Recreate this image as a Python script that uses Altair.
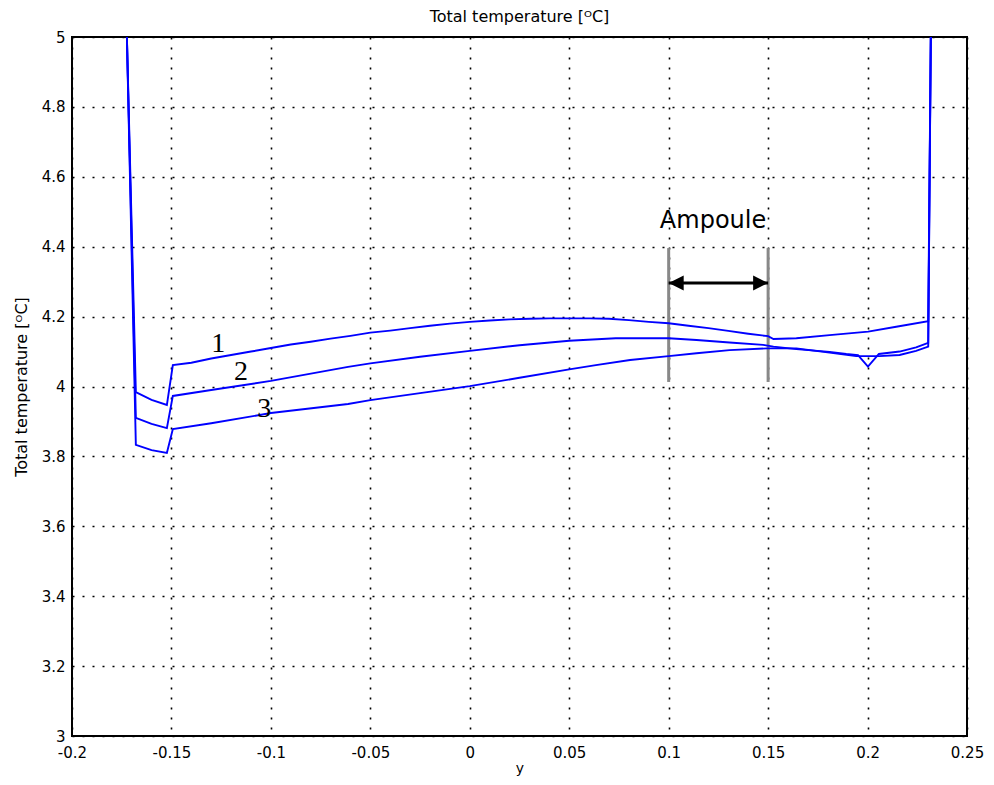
import altair as alt
import pandas as pd

# ---- data ----
x_ticks = [-0.2, -0.15, -0.1, -0.05, 0, 0.05, 0.1, 0.15, 0.2, 0.25]
y_ticks = [3, 3.2, 3.4, 3.6, 3.8, 4, 4.2, 4.4, 4.6, 4.8, 5]

c1_x = [-0.1724, -0.1679, -0.160, -0.1523, -0.1493, -0.14, -0.13, -0.12, -0.11, -0.10,
        -0.09, -0.08, -0.07, -0.06, -0.05, -0.04, -0.03, -0.02, -0.01, 0.0,
        0.01, 0.02, 0.03, 0.04, 0.05, 0.06, 0.07, 0.08, 0.09, 0.10,
        0.11, 0.12, 0.13, 0.14, 0.15, 0.1527, 0.1642, 0.1809, 0.2003, 0.2144,
        0.2305, 0.2318]
c1_y = [5.0, 3.984, 3.962, 3.947, 4.061, 4.068, 4.080, 4.090, 4.100, 4.110,
        4.120, 4.128, 4.137, 4.145, 4.154, 4.160, 4.167, 4.174, 4.180, 4.185,
        4.189, 4.192, 4.194, 4.195, 4.195, 4.195, 4.194, 4.190, 4.185, 4.181,
        4.174, 4.167, 4.159, 4.151, 4.144, 4.136, 4.138, 4.147, 4.157, 4.171,
        4.187, 5.0]

c2_x = [-0.1724, -0.1679, -0.160, -0.1523, -0.1493, -0.13, -0.10, -0.0612, -0.05, -0.025,
        0.0, 0.025, 0.05, 0.0734, 0.1, 0.114, 0.1306, 0.1475, 0.1527, 0.1642,
        0.1809, 0.1893, 0.1952, 0.2002, 0.2057, 0.2161, 0.2244, 0.2305, 0.2318]
c2_y = [5.0, 3.910, 3.893, 3.881, 3.973, 3.990, 4.016, 4.056, 4.066, 4.085,
        4.102, 4.118, 4.131, 4.138, 4.138, 4.133, 4.126, 4.119, 4.114, 4.107,
        4.099, 4.093, 4.090, 4.057, 4.093, 4.100, 4.112, 4.125, 5.0]

c3_x = [-0.1724, -0.1679, -0.160, -0.1523, -0.1493, -0.13, -0.10, -0.0612, -0.05, -0.025,
        0.0, 0.025, 0.05, 0.0634, 0.0806, 0.1, 0.114, 0.1306, 0.1498, 0.1642,
        0.1809, 0.1943, 0.2060, 0.2161, 0.2244, 0.2305, 0.2318]
c3_y = [5.0, 3.833, 3.818, 3.810, 3.878, 3.895, 3.924, 3.950, 3.961, 3.981,
        4.001, 4.025, 4.049, 4.061, 4.076, 4.087, 4.095, 4.104, 4.109, 4.109,
        4.097, 4.087, 4.087, 4.090, 4.102, 4.114, 5.0]

series_names = ["1", "2", "3"]
label_x = [-0.1265, -0.1150, -0.1034]
label_y = [4.0987, 4.0186, 3.9127]

ampoule_x = [0.1, 0.15]
ampoule_y_low = 4.013
ampoule_y_high = 4.396
arrow_y = 4.296
ampoule_text = "Ampoule"
ampoule_text_x = 0.1223
ampoule_text_y = 4.4535

# ---- tables ----
rows = []
for name, xs, ys in zip(series_names, [c1_x, c2_x, c3_x], [c1_y, c2_y, c3_y]):
    for i, (xv, yv) in enumerate(zip(xs, ys)):
        rows.append({"series": name, "x": xv, "y": yv, "i": i})
df = pd.DataFrame(rows)

labels_df = pd.DataFrame({"x": label_x, "y": label_y, "t": series_names})
amp_df = pd.DataFrame({"x": ampoule_x, "y1": [ampoule_y_low] * 2, "y2": [ampoule_y_high] * 2})
arrow_df = pd.DataFrame({"x": [ampoule_x[0]], "x2": [ampoule_x[1]], "y": [arrow_y]})
head_l = pd.DataFrame({"x": [ampoule_x[0]], "y": [arrow_y]})
head_r = pd.DataFrame({"x": [ampoule_x[1]], "y": [arrow_y]})
amp_text_df = pd.DataFrame({"x": [ampoule_text_x], "y": [ampoule_text_y], "t": [ampoule_text]})

FONT = "DejaVu Sans"
xs = alt.Scale(domain=[-0.2, 0.25], nice=False, zero=False)
ys = alt.Scale(domain=[3, 5], nice=False, zero=False)

x_axis = alt.Axis(title="y", values=x_ticks, labelExpr="'' + datum.value",
                  labelPadding=9, titlePadding=1, titleFontSize=14, labelFlush=False)
y_axis = alt.Axis(title="Total temperature [ᴼC]", values=y_ticks,
                  labelExpr="'' + datum.value", labelPadding=7, titlePadding=12,
                  labelFlush=False)

lines = alt.Chart(df).mark_line(color="#0000ff", strokeWidth=1.9, clip=True).encode(
    x=alt.X("x:Q", scale=xs, axis=x_axis),
    y=alt.Y("y:Q", scale=ys, axis=y_axis),
    detail="series:N",
    order="i:Q",
)

num_labels = alt.Chart(labels_df).mark_text(
    font="Liberation Serif", fontSize=28, align="center", baseline="alphabetic", color="black"
).encode(x=alt.X("x:Q", scale=xs), y=alt.Y("y:Q", scale=ys), text="t:N")

amp_rules = alt.Chart(amp_df).mark_rule(color="#888888", strokeWidth=3).encode(
    x=alt.X("x:Q", scale=xs), y=alt.Y("y1:Q", scale=ys), y2="y2:Q"
)

arrow_line = alt.Chart(arrow_df).mark_rule(color="black", strokeWidth=3).encode(
    x=alt.X("x:Q", scale=xs), x2="x2:Q", y=alt.Y("y:Q", scale=ys)
)

left_head = alt.Chart(head_l).mark_point(
    shape="M0,0L2,-1L2,1Z", size=225, filled=True, color="black", opacity=1
).encode(x=alt.X("x:Q", scale=xs), y=alt.Y("y:Q", scale=ys))

right_head = alt.Chart(head_r).mark_point(
    shape="M0,0L-2,-1L-2,1Z", size=225, filled=True, color="black", opacity=1
).encode(x=alt.X("x:Q", scale=xs), y=alt.Y("y:Q", scale=ys))

amp_text = alt.Chart(amp_text_df).mark_text(
    font=FONT, fontSize=24, align="center", baseline="alphabetic", color="black"
).encode(x=alt.X("x:Q", scale=xs), y=alt.Y("y:Q", scale=ys), text="t:N")

chart = alt.layer(
    amp_rules, lines, arrow_line, left_head, right_head, amp_text, num_labels
).properties(
    width=895,
    height=699,
    title=alt.TitleParams("Total temperature [ᴼC]", font=FONT, fontSize=16,
                          fontWeight="normal", color="black", offset=5,
                          frame="group"),
    autosize=alt.AutoSizeParams(type="none"),
    padding={"left": 64, "top": 29, "right": 18, "bottom": 41},
).configure_view(
    stroke="black", strokeWidth=2
).configure_axis(
    domain=False, ticks=False,
    labelFont=FONT, labelFontSize=15, labelColor="black",
    titleFont=FONT, titleFontSize=16, titleFontWeight="normal", titleColor="black",
    gridColor="black", gridDash=[2, 8], gridWidth=1.6, gridOpacity=1,
)

chart.save("out.html", embed_options={"renderer": "svg", "actions": False})
